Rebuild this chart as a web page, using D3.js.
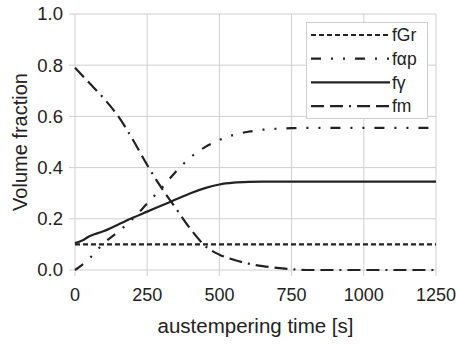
<!DOCTYPE html>
<html>
<head>
<meta charset="utf-8">
<script src="https://cdn.jsdelivr.net/npm/d3@7"></script>
<style>
  body { margin: 0; background: #fff; }
  text { font-family: "Liberation Sans", Arial, sans-serif; fill: #222; }
</style>
</head>
<body>
<div id="chart"></div>
<script>
/* DATA */
const times = [0, 25, 50, 100, 150, 200, 250, 300, 350, 400, 450, 500, 550, 600, 650, 700, 750, 800, 900, 1000, 1100, 1250];
const fGr = [0.1, 0.1, 0.1, 0.1, 0.1, 0.1, 0.1, 0.1, 0.1, 0.1, 0.1, 0.1, 0.1, 0.1, 0.1, 0.1, 0.1, 0.1, 0.1, 0.1, 0.1, 0.1];
const fap = [0, 0.02, 0.045, 0.105, 0.15, 0.2, 0.26, 0.32, 0.385, 0.44, 0.48, 0.508, 0.528, 0.54, 0.548, 0.552, 0.554, 0.555, 0.555, 0.555, 0.555, 0.555];
const fy = [0.105, 0.115, 0.132, 0.152, 0.178, 0.204, 0.228, 0.252, 0.276, 0.3, 0.32, 0.334, 0.341, 0.344, 0.345, 0.345, 0.345, 0.345, 0.345, 0.345, 0.345, 0.345];
const fm = [0.79, 0.76, 0.73, 0.67, 0.6, 0.51, 0.41, 0.32, 0.24, 0.16, 0.095, 0.06, 0.04, 0.025, 0.015, 0.008, 0.003, 0, 0, 0, 0, 0];
const seriesNames = ["fGr", "fαp", "fγ", "fm"];
const xTicks = [0, 250, 500, 750, 1000, 1250];
const yTicks = [0, 0.2, 0.4, 0.6, 0.8, 1.0];

/* CONSTANTS */
const width = 456, height = 345;
const margin = { top: 14, right: 20, bottom: 75, left: 75 };

const svg = d3.select("#chart").append("svg")
  .attr("width", width)
  .attr("height", height)

const x = d3.scaleLinear().domain([0, 1250]).range([margin.left, width - margin.right])
const y = d3.scaleLinear().domain([0, 1]).range([height - margin.bottom, margin.top])

// grid
svg.append("g")
  .selectAll("line")
  .data(yTicks)
  .join("line")
  .attr("x1", x(0) - 6).attr("x2", x(1250))
  .attr("y1", d => y(d)).attr("y2", d => y(d))
  .attr("stroke", "#cfcfcf").attr("stroke-width", 1)

svg.append("g")
  .selectAll("line")
  .data(xTicks)
  .join("line")
  .attr("x1", d => x(d)).attr("x2", d => x(d))
  .attr("y1", y(1)).attr("y2", y(0) + 6)
  .attr("stroke", "#cfcfcf").attr("stroke-width", 1)

// tick labels
svg.append("g")
  .selectAll("text")
  .data(yTicks)
  .join("text")
  .attr("x", x(0) - 12)
  .attr("y", d => y(d))
  .attr("dy", "0.35em")
  .attr("text-anchor", "end")
  .style("font-size", "18.5px")
  .text(d => d3.format(".1f")(d))

svg.append("g")
  .selectAll("text")
  .data(xTicks)
  .join("text")
  .attr("x", d => x(d))
  .attr("y", y(0) + 31)
  .attr("text-anchor", "middle")
  .style("font-size", "18px")
  .text(d => d)

// axis titles
svg.append("text")
  .attr("x", (x(0) + x(1250)) / 2)
  .attr("y", 333)
  .attr("text-anchor", "middle")
  .style("font-size", "20.5px")
  .text("austempering time [s]")

svg.append("text")
  .attr("transform", `translate(27,${(y(0) + y(1)) / 2}) rotate(-90)`)
  .attr("text-anchor", "middle")
  .style("font-size", "20px")
  .text("Volume fraction")

// lines
const dashes = ["5,3", "10,10,2,10,2,10", null, "13,6,13,6,2,6"];
const allSeries = [fGr, fap, fy, fm];
const line = d3.line()
  .x((d, i) => x(times[i]))
  .y(d => y(d))
  .curve(d3.curveMonotoneX)

svg.append("g")
  .selectAll("path")
  .data(allSeries)
  .join("path")
  .attr("d", d => line(d))
  .attr("fill", "none")
  .attr("stroke", "#222")
  .attr("stroke-width", 2.2)
  .attr("stroke-dasharray", (d, i) => dashes[i])

// legend
const lg = svg.append("g")
lg.append("rect")
  .attr("x", 306.5).attr("y", 22.5)
  .attr("width", 121).attr("height", 96)
  .attr("fill", "#fff").attr("stroke", "#cfcfcf")

const rows = lg.selectAll("g.row")
  .data(seriesNames)
  .join("g")
  .attr("class", "row")
  .attr("transform", (d, i) => `translate(0,${35 + i * 23.7})`)

rows.append("line")
  .attr("x1", 311).attr("x2", 390)
  .attr("stroke", "#222").attr("stroke-width", 2.2)
  .attr("stroke-dasharray", (d, i) => dashes[i])

rows.append("text")
  .attr("x", 392)
  .attr("dy", "0.35em")
  .style("font-size", "17.5px")
  .text(d => d)
</script>
</body>
</html>
